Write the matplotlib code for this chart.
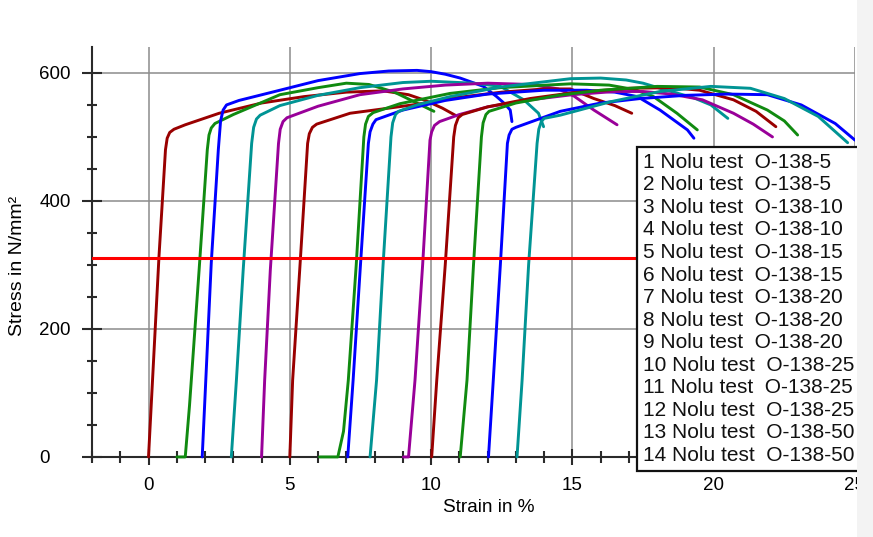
import matplotlib
matplotlib.use("Agg")
import matplotlib.pyplot as plt
from matplotlib.patches import Rectangle
from matplotlib.ticker import MultipleLocator

plt.rcParams["font.family"] = ["Liberation Sans", "DejaVu Sans"]

# strain (%) / stress (N/mm2), one pair per test
t01_strain = [0, 0.37, 0.6, 0.66, 0.75, 0.9, 1.3, 2.5, 4.0, 5.5, 7.0, 8.3, 9.2, 9.8, 10.4, 10.85]
t01_stress = [0, 313, 480, 498, 507, 512, 519, 537, 553, 563, 570, 572, 566, 557, 545, 534]

t02_strain = [1.0, 1.3, 1.45, 1.79, 2.08, 2.14, 2.22, 2.35, 3.0, 4.65, 6.0, 7.0, 7.8, 8.7, 9.4, 10.1]
t02_stress = [0, 0, 80, 292, 480, 503, 514, 521, 535, 566, 577, 584, 582, 570, 555, 540]

t03_strain = [1.9, 2.22, 2.47, 2.55, 2.64, 2.76, 3.2, 4.65, 6.0, 7.48, 8.5, 9.5,
              10.0, 10.5, 11.03, 11.85, 12.32, 12.6, 12.8, 12.86]
t03_stress = [0, 303, 480, 525, 542, 550, 557, 573, 588, 599, 603, 604,
              602, 598, 592, 579, 563, 552, 542, 524]

t04_strain = [2.93, 3.11, 3.35, 3.65, 3.72, 3.82, 3.95, 4.65, 6.0, 7.48, 9.0, 10.0, 11.5, 12.45,
              13.28, 13.8, 13.98]
t04_stress = [0, 120, 292, 490, 515, 528, 534, 549, 565, 577, 585, 587, 584, 579, 558, 537, 516]

t05_strain = [4.0, 4.11, 4.31, 4.6, 4.66, 4.76, 4.9, 6.0, 7.48, 9.0, 10.5, 12.0, 13.5, 14.5,
              15.05, 15.76, 16.58]
t05_stress = [0, 120, 292, 490, 512, 524, 530, 548, 566, 575, 581, 584, 582, 575, 564, 542, 519]

t06_strain = [5.0, 5.1, 5.35, 5.63, 5.69, 5.8, 5.95, 7.13, 8.5, 9.5, 11.0, 12.5, 14.0, 14.93,
              15.76, 16.5, 17.1]
t06_stress = [0, 120, 292, 490, 505, 515, 520, 537, 545, 551, 562, 570, 575, 575, 560, 549, 537]

t07_strain = [6.05, 6.7, 6.9, 7.07, 7.35, 7.62, 7.68, 7.78, 7.95, 8.9, 10.67, 12.45, 14.93, 16.3,
              17.2, 17.87, 18.7, 19.42]
t07_stress = [0, 0, 40, 120, 300, 500, 520, 532, 538, 552, 568, 577, 583, 581, 574, 563, 537, 511]

t08_strain = [7.05, 7.24, 7.5, 7.78, 7.84, 7.94, 8.05, 9.0, 10.5, 12.0, 14.0, 15.5, 16.5,
              17.3, 18.1, 19.07, 19.3]
t08_stress = [0, 120, 300, 490, 508, 520, 527, 542, 557, 567, 573, 573, 570, 563, 542, 511, 498]

t09_strain = [7.84, 8.07, 8.3, 8.58, 8.64, 8.74, 8.85, 9.5, 10.67, 12.45, 14.93, 16.0, 16.9, 17.5,
              18.1, 19.3, 19.9, 20.5]
t09_stress = [0, 120, 300, 500, 522, 535, 540, 550, 563, 578, 591, 592, 589, 584, 576, 561, 550, 529]

t10_strain = [9.02, 9.2, 9.43, 9.7, 9.96, 10.02, 10.12, 10.3, 11.0, 12.0, 13.5, 15.0, 16.5, 17.5,
              18.5, 19.6, 20.7, 21.4, 22.08]
t10_stress = [0, 0, 120, 300, 495, 508, 518, 524, 535, 547, 558, 566, 571, 571, 567, 558, 537, 520, 500]

t11_strain = [10.02, 10.2, 10.5, 10.8, 10.86, 10.96, 11.1, 12.0, 13.5, 15.0, 17.0, 18.5, 19.5, 20.7,
              21.5, 22.2]
t11_stress = [0, 120, 300, 500, 518, 530, 535, 547, 560, 569, 576, 577, 573, 558, 540, 516]

t12_strain = [11.03, 11.27, 11.5, 11.78, 11.84, 11.94, 12.05, 13.0, 14.5, 16.0, 18.0, 19.5, 20.7,
              21.9, 22.5, 22.97]
t12_stress = [0, 120, 300, 500, 522, 535, 540, 553, 565, 573, 579, 578, 566, 542, 525, 503]

t13_strain = [12.03, 12.2, 12.45, 12.7, 12.76, 12.86, 13.0, 14.57, 16.0, 17.4, 19.0, 20.5, 21.9,
              23.1, 24.3, 25.0]
t13_stress = [0, 120, 300, 490, 503, 512, 515, 540, 553, 560, 565, 567, 566, 550, 521, 495]

t14_strain = [13.04, 13.22, 13.45, 13.75, 13.81, 13.9, 14.0, 14.57, 16.35, 18.1, 19.9, 21.3, 22.5,
              23.7, 24.74]
t14_stress = [0, 120, 300, 490, 512, 524, 529, 534, 555, 571, 579, 576, 560, 532, 491]

labels = [
    "1 Nolu test  O-138-5", "2 Nolu test  O-138-5",
    "3 Nolu test  O-138-10", "4 Nolu test  O-138-10",
    "5 Nolu test  O-138-15", "6 Nolu test  O-138-15",
    "7 Nolu test  O-138-20", "8 Nolu test  O-138-20", "9 Nolu test  O-138-20",
    "10 Nolu test  O-138-25", "11 Nolu test  O-138-25", "12 Nolu test  O-138-25",
    "13 Nolu test  O-138-50", "14 Nolu test  O-138-50",
]
limit_stress = 311

curves = [
    (t01_strain, t01_stress), (t02_strain, t02_stress), (t03_strain, t03_stress),
    (t04_strain, t04_stress), (t05_strain, t05_stress), (t06_strain, t06_stress),
    (t07_strain, t07_stress), (t08_strain, t08_stress), (t09_strain, t09_stress),
    (t10_strain, t10_stress), (t11_strain, t11_stress), (t12_strain, t12_stress),
    (t13_strain, t13_stress), (t14_strain, t14_stress),
]
palette = ["#990000", "#108a10", "#0000ff", "#009494", "#990099"]

fig = plt.figure(figsize=(8.73, 5.37), dpi=100)
ax = fig.add_axes([92 / 873, 1 - 459.5 / 537, 763 / 873, 412.8 / 537])

lines = []
for i, (sx, sy) in enumerate(curves):
    (ln,) = ax.plot(sx, sy, color=palette[i % len(palette)], lw=2.1,
                    solid_joinstyle="round", solid_capstyle="round", zorder=3)
    lines.append(ln)

ax.axhline(limit_stress, color="#ff0000", lw=2.2, zorder=4)

ax.set_xlim(-2, 25)
ax.set_ylim(-4, 641)
ax.xaxis.set_major_locator(MultipleLocator(5))
ax.xaxis.set_minor_locator(MultipleLocator(1))
ax.yaxis.set_major_locator(MultipleLocator(200))
ax.yaxis.set_minor_locator(MultipleLocator(50))

ax.grid(True, which="major", color="#8c8c8c", lw=1.1)
ax.set_axisbelow(True)

for side in ["top", "right"]:
    ax.spines[side].set_visible(False)
ax.spines["bottom"].set_position(("data", 0))
for side in ["left", "bottom"]:
    ax.spines[side].set_color("#2a2a2a")
    ax.spines[side].set_linewidth(1.5)

ax.tick_params(axis="x", which="major", direction="inout", length=11, width=1.5,
               color="#2a2a2a", labelsize=13.5, pad=9)
ax.tick_params(axis="x", which="minor", direction="inout", length=8, width=1.5,
               color="#2a2a2a")
ax.tick_params(axis="y", which="major", direction="inout", length=14, width=1.5,
               color="#2a2a2a", labelsize=13.5, pad=31)
ax.tick_params(axis="y", which="minor", direction="inout", length=7, width=1.5,
               color="#2a2a2a")
for lbl in ax.get_yticklabels():
    lbl.set_horizontalalignment("left")

leg = ax.legend(lines, labels, loc="upper left", bbox_to_anchor=(0.714, 0.757),
                borderaxespad=0, handlelength=0, handletextpad=0, fontsize=15,
                labelspacing=0.17, borderpad=0.28, fancybox=False, framealpha=1,
                edgecolor="#111111")
leg.get_frame().set_linewidth(1.6)
for h in leg.legend_handles:
    h.set_visible(False)
for t in leg.get_texts():
    t.set_color("#111111")

fig.text(18 / 873, 1 - 266 / 537, "Stress in N/mm²", rotation=90, ha="center",
         va="center", fontsize=14)
fig.text(489 / 873, 1 - 508 / 537, "Strain in %", ha="center", va="center", fontsize=13.7)

# light strip on the right edge of the screenshot
fig.add_artist(Rectangle((857 / 873, 0), 16 / 873, 1, transform=fig.transFigure,
                         facecolor="#f3f3f3", edgecolor="none", zorder=10))

fig.savefig("out.png", dpi=100)
